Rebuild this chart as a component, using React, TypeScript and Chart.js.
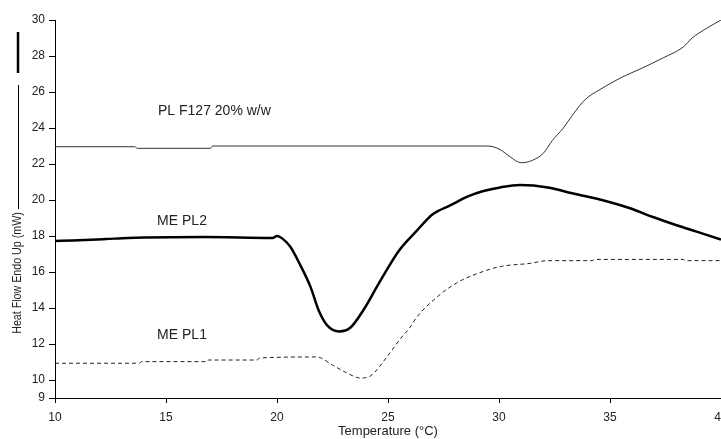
import { useEffect, useRef } from 'react';
import { Chart, registerables } from 'chart.js';

Chart.register(...registerables);

// Axis ticks
const xTicks = [10, 15, 20, 25, 30, 35, 40];
const yTicks = [9, 10, 12, 14, 16, 18, 20, 22, 24, 26, 28, 30];

// PL F127 20% w/w (thin solid)
const f127Temp = [10, 13.6, 13.7, 17.0, 17.1, 29.5, 30.05, 30.5, 31.0, 31.5, 32.0, 32.4, 32.9, 33.3, 33.9, 34.5, 35.5, 36.4, 37.4, 38.3, 38.7, 39.3, 40];
const f127Flow = [22.96, 22.96, 22.87, 22.87, 23.0, 23.0, 22.8, 22.4, 22.07, 22.2, 22.6, 23.3, 24.0, 24.7, 25.6, 26.1, 26.8, 27.3, 27.9, 28.5, 29.0, 29.5, 30.0];

// ME PL2 (thick solid)
const pl2Temp = [10, 10.8, 12.3, 13.3, 16.7, 19.8, 20.0, 20.3, 20.6, 21.0, 21.5, 21.9, 22.25, 22.8, 23.3, 23.9, 24.6, 25.5, 26.3, 27.0, 27.8, 28.6, 29.3, 30.05, 30.95, 32.2, 33.3, 34.5, 35.9, 36.9, 38.0, 38.9, 40];
const pl2Flow = [17.72, 17.75, 17.83, 17.89, 17.94, 17.89, 18.0, 17.8, 17.4, 16.5, 15.2, 13.8, 13.05, 12.7, 12.9, 13.9, 15.4, 17.2, 18.3, 19.2, 19.7, 20.2, 20.5, 20.7, 20.83, 20.7, 20.37, 20.04, 19.54, 19.07, 18.6, 18.24, 17.8];

// ME PL1 (dashed)
const pl1Temp = [10, 13.8, 13.9, 16.85, 16.9, 19.1, 19.2, 21.8, 22.5, 23.15, 23.75, 24.2, 24.95, 25.5, 26.0, 26.3, 27.2, 28.1, 29.0, 30.05, 31.4, 32.2, 34.2, 34.3, 38.3, 38.4, 40];
const pl1Flow = [10.93, 10.93, 11.02, 11.02, 11.11, 11.11, 11.22, 11.28, 10.83, 10.39, 10.11, 10.22, 11.28, 12.2, 12.94, 13.5, 14.6, 15.4, 15.9, 16.3, 16.48, 16.63, 16.63, 16.7, 16.7, 16.63, 16.63];

const seriesNames = ['PL F127 20% w/w', 'ME PL2', 'ME PL1'];

const SANS = "'Liberation Sans', Arial, sans-serif";

const toPoints = (t: number[], v: number[]) => t.map((x, i) => ({ x, y: v[i] }));

const annotationPlugin = {
  id: 'annotations',
  afterDraw(chart: any) {
    const { ctx, scales } = chart;
    const xs = scales.x;
    const ys = scales.y;
    const anchors: [number, number][] = [
      [14.64, 24.94],
      [14.6, 18.83],
      [14.6, 12.5],
    ];
    ctx.save();
    ctx.fillStyle = '#222';
    ctx.font = `14px ${SANS}`;
    ctx.textAlign = 'left';
    ctx.textBaseline = 'middle';
    seriesNames.forEach((name, i) => {
      ctx.fillText(name, xs.getPixelForValue(anchors[i][0]), ys.getPixelForValue(anchors[i][1]));
    });
    ctx.restore();

    // Y axis title with direction marks
    ctx.save();
    ctx.translate(18, 273);
    ctx.rotate(-Math.PI / 2);
    ctx.scale(0.89, 1);
    ctx.fillStyle = '#222';
    ctx.font = `12px ${SANS}`;
    ctx.textAlign = 'center';
    ctx.textBaseline = 'middle';
    ctx.fillText('Heat Flow Endo Up (mW)', 0, 0);
    ctx.restore();

    ctx.save();
    ctx.strokeStyle = '#000';
    ctx.lineWidth = 1;
    ctx.beginPath();
    ctx.moveTo(18.5, 85);
    ctx.lineTo(18.5, 209);
    ctx.stroke();
    ctx.lineWidth = 2.5;
    ctx.beginPath();
    ctx.moveTo(18, 32);
    ctx.lineTo(18, 73);
    ctx.stroke();
    ctx.restore();
  },
};

export default function App() {
  const ref = useRef<HTMLCanvasElement>(null);

  useEffect(() => {
    if (!ref.current) return;
    const chart = new Chart(ref.current, {
      type: 'line',
      data: {
        datasets: [
          {
            label: seriesNames[0],
            data: toPoints(f127Temp, f127Flow),
            borderColor: '#333',
            borderWidth: 1,
            pointRadius: 0,
            cubicInterpolationMode: 'monotone',
          },
          {
            label: seriesNames[1],
            data: toPoints(pl2Temp, pl2Flow),
            borderColor: '#000',
            borderWidth: 2.5,
            pointRadius: 0,
            cubicInterpolationMode: 'monotone',
          },
          {
            label: seriesNames[2],
            data: toPoints(pl1Temp, pl1Flow),
            borderColor: '#222',
            borderWidth: 1,
            borderDash: [4, 3],
            pointRadius: 0,
            cubicInterpolationMode: 'monotone',
          },
        ],
      },
      options: {
        animation: false,
        responsive: true,
        maintainAspectRatio: false,
        layout: { padding: { top: 20, right: 0, bottom: 0, left: 0 } },
        plugins: {
          legend: { display: false },
          tooltip: { enabled: false },
        },
        scales: {
          x: {
            type: 'linear',
            min: 10,
            max: 40,
            afterBuildTicks: (s: any) => {
              s.ticks = xTicks.map((v) => ({ value: v }));
            },
            afterFit: (s: any) => {
              s.height = 41;
              s.paddingLeft = 0;
              s.paddingRight = 0;
            },
            ticks: {
              autoSkip: false,
              maxRotation: 0,
              padding: 7,
              color: '#222',
              font: { family: SANS, size: 12 },
            },
            grid: { drawOnChartArea: false, drawTicks: true, tickLength: 5, color: '#000' },
            border: { color: '#000', width: 1 },
            title: {
              display: true,
              text: 'Temperature (°C)',
              color: '#222',
              font: { family: SANS, size: 13 },
              padding: { top: 0, bottom: 0 },
            },
          },
          y: {
            type: 'linear',
            min: 9,
            max: 30,
            afterBuildTicks: (s: any) => {
              s.ticks = yTicks.map((v) => ({ value: v }));
            },
            afterFit: (s: any) => {
              s.width = 55;
            },
            ticks: {
              autoSkip: false,
              padding: 4,
              color: '#222',
              font: { family: SANS, size: 12 },
            },
            grid: { drawOnChartArea: false, drawTicks: true, tickLength: 6, color: '#000' },
            border: { color: '#000', width: 1 },
          },
        },
      },
      plugins: [annotationPlugin],
    });
    return () => chart.destroy();
  }, []);

  return (
    <div style={{ position: 'absolute', left: 0, top: 0, width: 721, height: 439, background: '#fff' }}>
      <canvas ref={ref} />
    </div>
  );
}
